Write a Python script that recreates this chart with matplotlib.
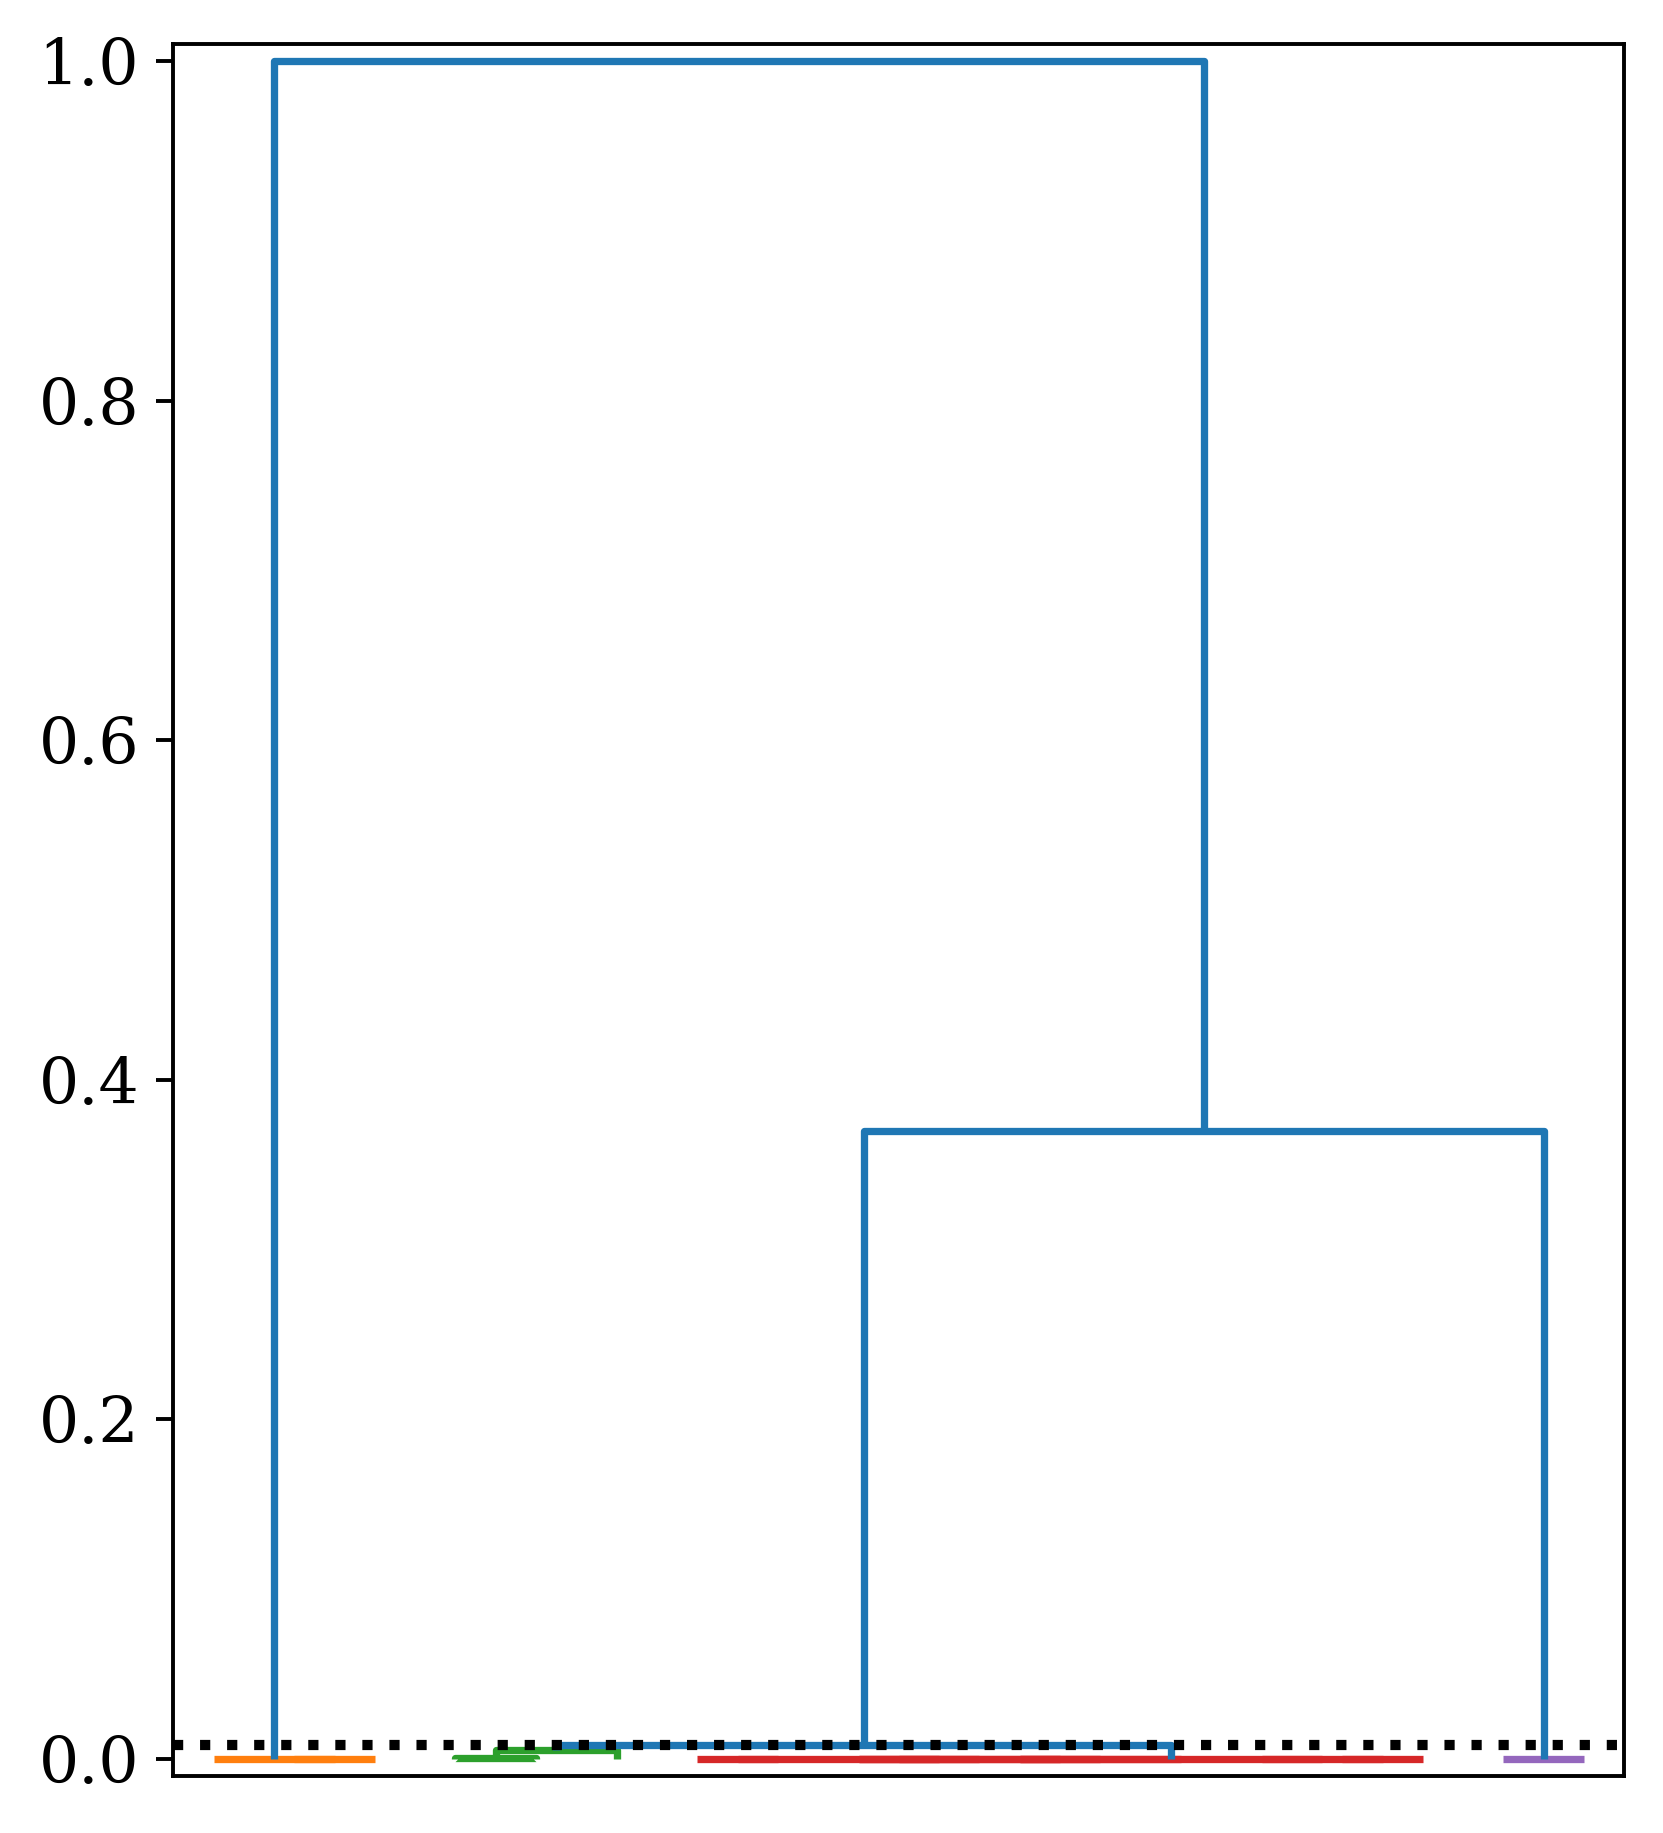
import numpy as np
import matplotlib.pyplot as plt

# linkage rows: left child, right child, merge height (leaves are 0..17)
n_leaves = 18
left_ids = [1, 0, 3, 20, 6, 8, 10, 23, 22, 26, 14, 13, 27, 16, 21, 32, 19]
right_ids = [2, 18, 4, 5, 7, 9, 11, 24, 25, 12, 15, 28, 29, 17, 30, 31, 33]
heights = [0.0, 0.0, 0.0004, 0.005, 0.0, 0.0, 0.0, 0.0,
           0.0, 0.0, 0.0, 0.0, 0.0, 0.0, 0.0081, 0.37, 1.0]
threshold = 0.008

cluster_colors = ["C1", "C2", "C3", "C4", "C5", "C6", "C7", "C8", "C9"]
above_color = "C0"

plt.rcParams["font.family"] = "DejaVu Serif"
plt.rcParams["font.size"] = 13

fig = plt.figure(figsize=(1663 / 350, 1833 / 350), dpi=350)
ax = fig.add_axes([0.1042, 0.0313, 0.9768 - 0.1042, 0.9759 - 0.0313])

root = n_leaves + len(heights) - 1
links = []  # (x_left, y_left, x_right, y_right, h, color)
leaf_counter = [0]
color_counter = [0]


def layout(node, color=None):
    # returns (x, height) of node, appends links like scipy's dendrogram
    if node < n_leaves:
        x = 5 + 10 * leaf_counter[0]
        leaf_counter[0] += 1
        return x, 0.0
    i = node - n_leaves
    h = heights[i]
    if h < threshold and color is None:
        color = cluster_colors[color_counter[0] % len(cluster_colors)]
        color_counter[0] += 1
    xl, yl = layout(left_ids[i], color)
    xr, yr = layout(right_ids[i], color)
    links.append((xl, yl, xr, yr, h, color if color is not None else above_color))
    return (xl + xr) / 2, h


layout(root)

# clusters first, above-threshold links on top
for xl, yl, xr, yr, h, c in sorted(links, key=lambda l: l[5] == above_color):
    ax.plot([xl, xl, xr, xr], [yl, h, h, yr], color=c, lw=1.5,
            solid_capstyle="butt", solid_joinstyle="round")

ax.axhline(threshold, color="k", linestyle=":", lw=2.1)

ax.set_xlim(0, 10 * n_leaves)
ax.set_ylim(-0.01, 1.01)
ax.set_xticks([])
ax.set_yticks([0.0, 0.2, 0.4, 0.6, 0.8, 1.0])

fig.savefig("out.png", dpi=350)
